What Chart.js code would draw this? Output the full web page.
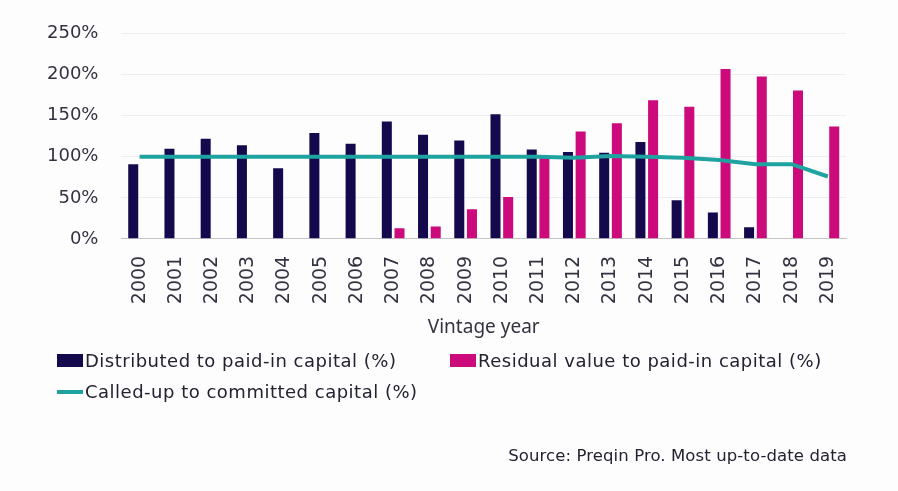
<!DOCTYPE html>
<html lang="en">
  <head>
    <meta charset="utf-8">
    <title>Vintage year ratios</title>
    <script src="https://cdn.jsdelivr.net/npm/chart.js"></script>
    <style>
      body {
        margin: 0;
        background: #fdfdfe;
      }
      #wrap {
        position: relative;
        width: 898px;
        height: 491px;
      }
      .legend-item {
        position: absolute;
        font-family: "DejaVu Sans", sans-serif;
        font-size: 18px;
        letter-spacing: 0.5px;
        line-height: 22px;
        color: #222230;
        white-space: nowrap;
      }
      .swatch {
        position: absolute;
      }
      #source {
        position: absolute;
        right: 51px;
        top: 445px;
        font-family: "DejaVu Sans", sans-serif;
        font-size: 16.5px;
        letter-spacing: 0.1px;
        line-height: 22px;
        color: #222230;
        white-space: nowrap;
      }
    </style>
  </head>
  <body>
    <div id="wrap">
      <canvas id="chart"></canvas>
      <div id="legend"></div>
      <div id="source">Source: Preqin Pro. Most up-to-date data</div>
    </div>

    <script>
      const COLORS = {
        navy: "#15094e",
        pink: "#cc0a7b",
        teal: "#1fa3a0",
      };

      // Data
      const years = ["2000", "2001", "2002", "2003", "2004", "2005", "2006", "2007", "2008", "2009",
                     "2010", "2011", "2012", "2013", "2014", "2015", "2016", "2017", "2018", "2019"];
      const distributed = [91, 110, 122, 114, 86, 129, 116, 143, 127, 120,
                           152, 109, 106, 105, 118, 47, 32, 14, null, null];
      const residual = [null, null, null, null, null, null, null, 13, 15, 36,
                        51, 99, 131, 141, 169, 161, 207, 198, 181, 137];
      const calledUp = [100, 100, 100, 100, 100, 100, 100, 100, 100, 100,
                        100, 100, 99, 101, 100, 99, 96, 91, 91, 76];
      const yTicks = [0, 50, 100, 150, 200, 250];

      const chart = new Chart(document.getElementById("chart").getContext("2d"), {
        type: "bar",
        data: {
          labels: years,
          datasets: [
            {
              label: "Distributed to paid-in capital (%)",
              data: distributed,
              backgroundColor: COLORS.navy,
              order: 1,
            },
            {
              label: "Residual value to paid-in capital (%)",
              data: residual,
              backgroundColor: COLORS.pink,
              order: 1,
            },
            {
              type: "line",
              label: "Called-up to committed capital (%)",
              data: calledUp,
              borderColor: COLORS.teal,
              backgroundColor: COLORS.teal,
              borderWidth: 4,
              pointRadius: 0,
              tension: 0,
              order: 0,
            },
          ],
        },
        options: {
          responsive: true,
          maintainAspectRatio: false,
          animation: false,
          categoryPercentage: 0.7,
          barPercentage: 0.79,
          layout: { padding: { left: 24, top: 32, right: 52, bottom: 152 } },
          plugins: {
            legend: { display: false },
            tooltip: { enabled: false },
          },
          scales: {
            x: {
              grid: { display: false },
              border: { display: true, color: "#c4c4c8", width: 1 },
              ticks: {
                color: "#333340",
                font: { family: "DejaVu Sans", size: 19 },
                minRotation: 90,
                maxRotation: 90,
                padding: 9,
              },
              title: {
                display: true,
                text: "Vintage year",
                color: "#333340",
                font: { family: "Noto Sans", size: 19 },
                padding: { top: 3, bottom: 0 },
              },
            },
            y: {
              min: 0,
              max: 250,
              afterBuildTicks: axis => { axis.ticks = yTicks.map(v => ({ value: v })); },
              grid: { color: "#eceef4", drawTicks: false },
              border: { display: false },
              ticks: {
                color: "#333340",
                font: { family: "DejaVu Sans", size: 18 },
                padding: 23,
                callback: v => v + "%",
              },
            },
          },
        },
      });

      // Legend built from the chart datasets, laid out in two rows
      const legendPos = [
        { left: 57, top: 350 },
        { left: 450, top: 350 },
        { left: 57, top: 381 },
      ];
      const legend = document.getElementById("legend");
      chart.data.datasets.forEach((ds, i) => {
        const pos = legendPos[i];
        const isLine = ds.type === "line";
        const sw = document.createElement("div");
        sw.className = "swatch";
        sw.style.left = pos.left + "px";
        sw.style.width = "26px";
        sw.style.top = (pos.top + (isLine ? 9 : 4)) + "px";
        sw.style.height = (isLine ? 4 : 13) + "px";
        sw.style.background = isLine ? ds.borderColor : ds.backgroundColor;
        legend.appendChild(sw);
        const txt = document.createElement("div");
        txt.className = "legend-item";
        txt.style.left = (pos.left + 28) + "px";
        txt.style.top = pos.top + "px";
        txt.textContent = ds.label;
        legend.appendChild(txt);
      });
    </script>
  </body>
</html>
